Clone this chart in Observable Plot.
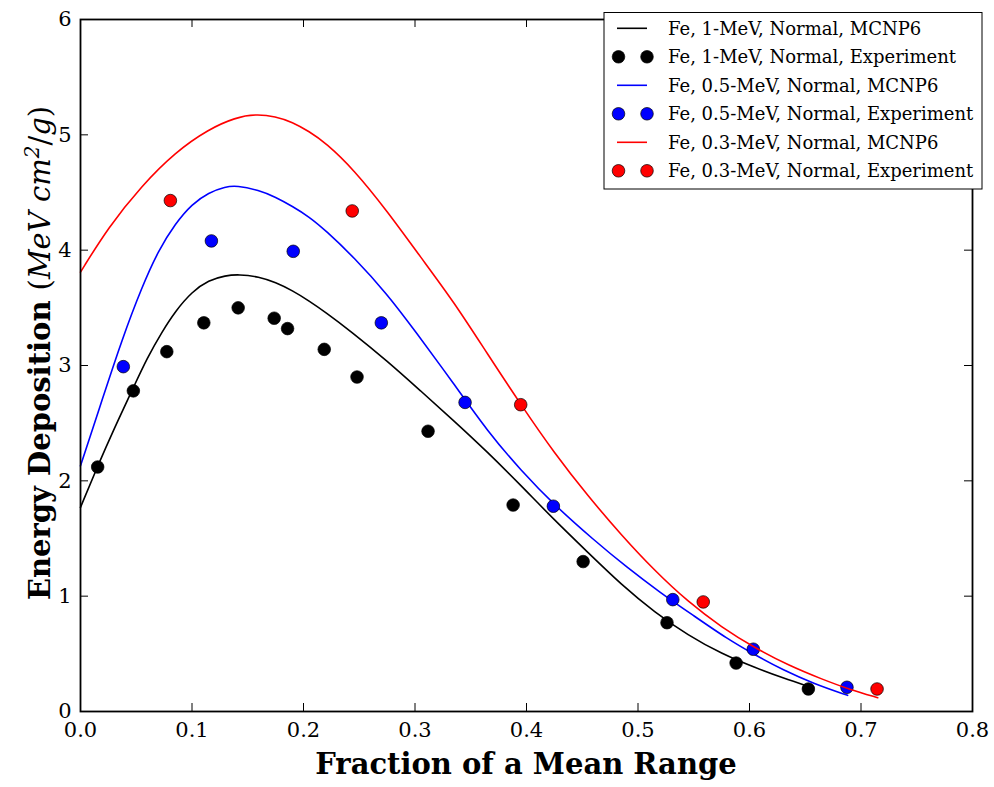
<!DOCTYPE html>
<html><head><meta charset="utf-8">
<script src="https://cdn.jsdelivr.net/npm/d3@7"></script>
<script src="https://cdn.jsdelivr.net/npm/@observablehq/plot@0.6"></script>
<style>body{margin:0;background:#fff;} #chart svg{display:block;}</style>
</head><body><div id="chart"></div>
<script>
// ---- Data ----
const xTicks = [0, 0.1, 0.2, 0.3, 0.4, 0.5, 0.6, 0.7, 0.8];
const yTicks = [0, 1, 2, 3, 4, 5, 6];
const xLabel = "Fraction of a Mean Range";
const yLabelBold = "Energy Deposition";

const legendNames = [
  "Fe, 1-MeV, Normal, MCNP6",
  "Fe, 1-MeV, Normal, Experiment",
  "Fe, 0.5-MeV, Normal, MCNP6",
  "Fe, 0.5-MeV, Normal, Experiment",
  "Fe, 0.3-MeV, Normal, MCNP6",
  "Fe, 0.3-MeV, Normal, Experiment"
];
const seriesColors = ["black", "blue", "red"];

// 1-MeV MCNP6 curve
const mc1x = [0.000,0.015,0.030,0.047,0.060,0.073,0.085,0.100,0.115,0.130,0.142,0.160,0.175,0.190,0.205,0.220,0.242,0.275,0.305,0.335,0.365,0.395,0.425,0.455,0.485,0.515,0.545,0.575,0.605,0.630,0.655];
const mc1y = [1.77,2.12,2.45,2.80,3.07,3.29,3.47,3.64,3.74,3.78,3.79,3.77,3.72,3.65,3.56,3.46,3.30,3.04,2.78,2.52,2.25,1.96,1.66,1.38,1.10,0.86,0.66,0.50,0.38,0.29,0.21];
// 1-MeV experiment
const ex1x = [0.0154,0.0474,0.0774,0.1106,0.1414,0.1737,0.1857,0.2186,0.2480,0.3117,0.3880,0.4508,0.5260,0.5880,0.6528];
const ex1y = [2.12,2.78,3.12,3.37,3.50,3.41,3.32,3.14,2.90,2.43,1.79,1.30,0.77,0.42,0.195];

// 0.5-MeV MCNP6 curve
const mc05x = [0.000,0.020,0.037,0.055,0.070,0.085,0.100,0.115,0.130,0.140,0.160,0.175,0.190,0.205,0.220,0.245,0.275,0.300,0.335,0.365,0.395,0.425,0.460,0.490,0.520,0.550,0.580,0.605,0.630,0.658,0.688];
const mc05y = [2.13,2.72,3.22,3.68,4.00,4.23,4.40,4.50,4.55,4.56,4.52,4.46,4.38,4.29,4.17,3.94,3.62,3.30,2.84,2.43,2.09,1.79,1.49,1.25,1.03,0.83,0.63,0.49,0.36,0.24,0.14];
// 0.5-MeV experiment
const ex05x = [0.0384,0.1174,0.1908,0.2698,0.3449,0.4241,0.5312,0.6034,0.6874];
const ex05y = [2.99,4.08,3.99,3.37,2.68,1.78,0.97,0.54,0.21];

// 0.3-MeV MCNP6 curve
const mc03x = [0.000,0.025,0.055,0.085,0.115,0.139,0.157,0.175,0.190,0.205,0.220,0.245,0.275,0.305,0.335,0.365,0.395,0.425,0.455,0.485,0.515,0.545,0.575,0.605,0.635,0.665,0.690,0.715];
const mc03y = [3.81,4.20,4.56,4.85,5.05,5.15,5.18,5.16,5.11,5.03,4.93,4.70,4.34,3.94,3.55,3.10,2.66,2.24,1.87,1.53,1.22,0.95,0.73,0.55,0.40,0.28,0.19,0.12];
// 0.3-MeV experiment
const ex03x = [0.0806,0.2437,0.3948,0.5585,0.7144];
const ex03y = [4.43,4.34,2.66,0.95,0.195];

// ---- Build ----
const rows = (xs, ys) => xs.map((x, i) => ({x, y: ys[i]}));
const series = [
  {curve: rows(mc1x, mc1y), exp: rows(ex1x, ex1y), color: seriesColors[0]},
  {curve: rows(mc05x, mc05y), exp: rows(ex05x, ex05y), color: seriesColors[1]},
  {curve: rows(mc03x, mc03y), exp: rows(ex03x, ex03y), color: seriesColors[2]}
];

const W = 994, H = 787, mL = 80, mR = 22, mT = 19, mB = 76;
const plotW = W - mL - mR, plotH = H - mT - mB;
const tickLen = 8;

const dataMarks = [];
series.forEach(s => {
  dataMarks.push(Plot.line(s.curve, {x: "x", y: "y", stroke: s.color, strokeWidth: 1.6, curve: "basis"}));
  dataMarks.push(Plot.dot(s.exp, {x: "x", y: "y", r: 6.3, fill: s.color, stroke: "black", strokeWidth: 0.7}));
});

const chart = Plot.plot({
  width: W, height: H,
  marginLeft: mL, marginRight: mR, marginTop: mT, marginBottom: mB,
  x: {domain: [0, 0.8]},
  y: {domain: [0, 6]},
  style: {fontFamily: "DejaVu Serif", fontSize: "21px", color: "black", background: "white", overflow: "visible"},
  marks: [
    Plot.tickX(xTicks, {x: d => d, insetTop: plotH - tickLen, stroke: "black", strokeWidth: 1}),
    Plot.tickX(xTicks, {x: d => d, insetBottom: plotH - tickLen, stroke: "black", strokeWidth: 1}),
    Plot.tickY(yTicks, {y: d => d, insetRight: plotW - tickLen, stroke: "black", strokeWidth: 1}),
    Plot.tickY(yTicks, {y: d => d, insetLeft: plotW - tickLen, stroke: "black", strokeWidth: 1}),
    Plot.axisX({ticks: xTicks, tickSize: 0, tickPadding: 11, tickFormat: d3.format(".1f"), label: null, fontSize: 21}),
    Plot.axisY({ticks: yTicks, tickSize: 0, tickPadding: 9, tickFormat: d3.format("d"), label: null, fontSize: 21}),
    ...dataMarks,
    Plot.frame({stroke: "black", strokeWidth: 1.8})
  ]
});
document.getElementById("chart").appendChild(chart);

// ---- Axis titles ----
const svg = d3.select(chart);
svg.append("text")
  .attr("x", mL + plotW / 2).attr("y", 774)
  .attr("text-anchor", "middle")
  .attr("font-family", "DejaVu Serif").attr("font-weight", "bold").attr("font-size", 29)
  .attr("fill", "black")
  .text(xLabel);

const yl = svg.append("text")
  .attr("transform", "translate(50,353) rotate(-90)")
  .attr("text-anchor", "middle")
  .attr("font-family", "DejaVu Serif").attr("font-size", 29).attr("fill", "black");
yl.append("tspan").attr("font-weight", "bold").text(yLabelBold + " ");
yl.append("tspan").text("(");
yl.append("tspan").attr("font-style", "italic").text("MeV cm");
yl.append("tspan").attr("font-style", "italic").attr("font-size", 20).attr("dy", -11).text("2");
yl.append("tspan").attr("dy", 11).text("/");
yl.append("tspan").attr("font-style", "italic").text("g");
yl.append("tspan").text(")");

// ---- Legend ----
const lg = svg.append("g").attr("text-anchor", "start");
const lx = 604, ly = 12.5, lw = 378, lh = 176.5;
lg.append("rect").attr("x", lx).attr("y", ly).attr("width", lw).attr("height", lh)
  .attr("fill", "white").attr("stroke", "black").attr("stroke-width", 1);
legendNames.forEach((name, i) => {
  const cy = 28.3 + i * 28.5;
  const color = seriesColors[Math.floor(i / 2)];
  if (i % 2 === 0) {
    lg.append("line").attr("x1", 617).attr("x2", 647).attr("y1", cy).attr("y2", cy)
      .attr("stroke", color).attr("stroke-width", 1.6);
  } else {
    [618.5, 647].forEach(cx => lg.append("circle").attr("cx", cx).attr("cy", cy).attr("r", 6.3)
      .attr("fill", color).attr("stroke", "black").attr("stroke-width", 0.7));
  }
  lg.append("text").attr("x", 668).attr("y", cy).attr("dy", "0.35em")
    .attr("text-anchor", "start")
    .attr("font-family", "DejaVu Serif").attr("font-size", 18).attr("fill", "black")
    .text(name);
});
</script>
</body></html>
